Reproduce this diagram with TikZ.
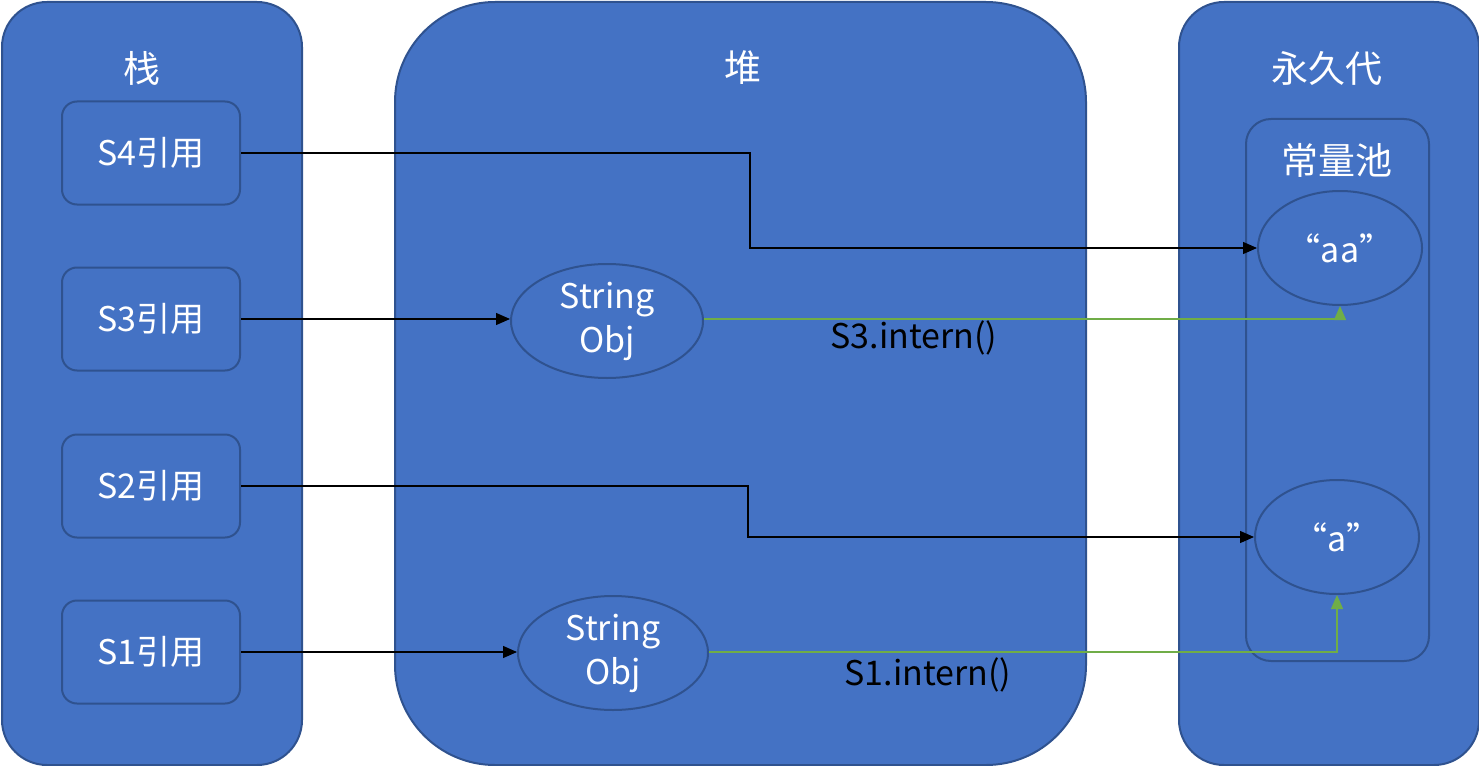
\documentclass[tikz,border=0pt]{standalone}
\usepackage{fontspec}
\newfontfamily\cjk{Noto Sans CJK SC}
\usetikzlibrary{shapes.geometric,arrows.meta}
\definecolor{boxblue}{HTML}{4472C4}
\definecolor{edgeblue}{HTML}{2F528F}
\definecolor{interngreen}{HTML}{70AD47}
\tikzset{
  panel/.style={draw=edgeblue, fill=boxblue, line width=2pt, anchor=north west, inner sep=0pt},
  title/.style={text=white, font=\cjk\fontsize{37}{40}\selectfont},
  refbox/.style={draw=edgeblue, fill=boxblue, line width=2pt, rounded corners=15pt, minimum width=178pt, minimum height=103pt, text=white, font=\cjk\fontsize{34}{40}\selectfont},
  obj/.style={ellipse, draw=edgeblue, fill=boxblue, line width=2pt, inner sep=0pt, text=white, align=center, font=\cjk\fontsize{34}{44}\selectfont},
  ref/.style={-{Triangle[length=14pt,width=12pt]}, line width=1.3pt, black},
  intern/.style={-{Triangle[length=14pt,width=12pt]}, line width=1.3pt, interngreen},
}
\begin{document}
\begin{tikzpicture}[x=1pt,y=-1pt]
\useasboundingbox (0,0) rectangle (1479,765);
% panels
\node[panel, rounded corners=45pt, minimum width=300pt, minimum height=763pt] (stack) at (1,1) {};
\node[panel, rounded corners=100pt, minimum width=691pt, minimum height=763pt] (heap) at (394,1) {};
\node[panel, rounded corners=45pt, minimum width=300pt, minimum height=763pt] (perm) at (1178,1) {};
\node[panel, rounded corners=25pt, minimum width=183pt, minimum height=542pt] (pool) at (1245,118) {};

\node[title] (t1) at (142,68) {栈};
\node[title] (t2) at (743,68) {堆};
\node[title] (t3) at (1327,68) {永久代};
\node[title] (t4) at (1337,160) {常量池};

% stack references
\node[refbox] (s4) at (151,153) {S4引用};
\node[refbox] (s3) at (151,319) {S3引用};
\node[refbox] (s2) at (151,486) {S2引用};
\node[refbox] (s1) at (151,652) {S1引用};

% objects
\node[obj, minimum width=192pt, minimum height=114pt] (o3) at (607,321) {String\\Obj};
\node[obj, minimum width=190pt, minimum height=114pt] (o1) at (613,653) {String\\Obj};
\node[obj, minimum width=164pt, minimum height=114pt, font=\cjk\fontsize{34}{40}\selectfont] (aa) at (1340,248) {“aa”};
\node[obj, minimum width=164pt, minimum height=114pt, font=\cjk\fontsize{34}{40}\selectfont] (a) at (1337,537) {“a”};

\coordinate (k4) at (750,0);
\coordinate (k2) at (748,0);

\draw[ref] (s4.east) -| (k4 |- aa.west) -- (aa.west);
\draw[ref] (s3.east) -- (s3.east -| o3.west);
\draw[ref] (s2.east) -| (k2 |- a.west) -- (a.west);
\draw[ref] (s1.east) -- (s1.east -| o1.west);

\draw[intern] (s3.east -| o3.east) -| (aa.south);
\draw[intern] (s1.east -| o1.east) -| (a.south);

\node[font=\cjk\fontsize{34}{40}\selectfont] (l3) at (914,338) {S3.intern()};
\node[font=\cjk\fontsize{34}{40}\selectfont] (l1) at (928,675) {S1.intern()};
\end{tikzpicture}
\end{document}
